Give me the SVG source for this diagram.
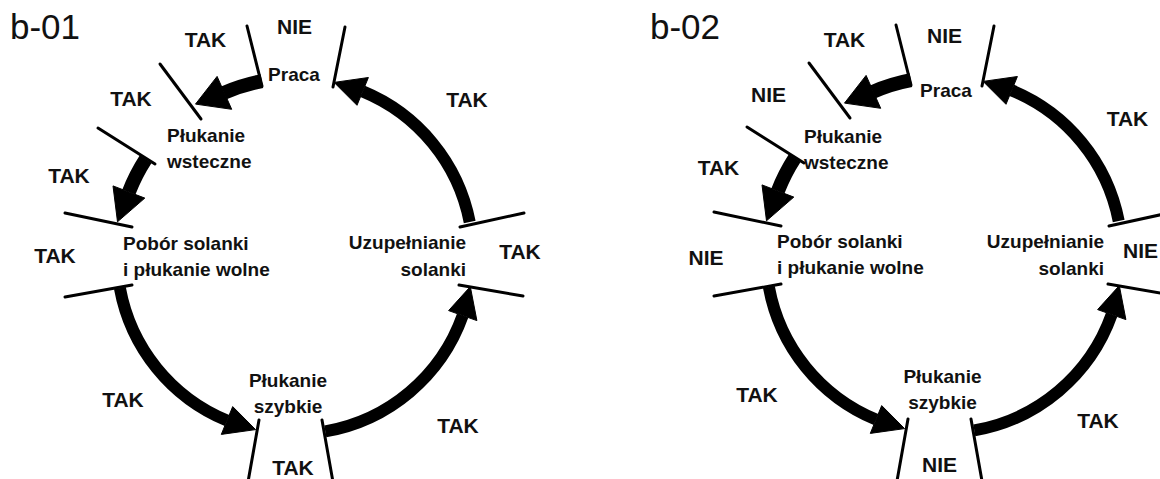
<svg xmlns="http://www.w3.org/2000/svg" width="1160" height="479" viewBox="0 0 1160 479">
<style>
text{font-family:"Liberation Sans",Arial,sans-serif;fill:#111}
.title{font-size:35px;font-weight:normal}
.lbl{font-size:19px;font-weight:bold}
.yn{font-size:21px;font-weight:bold;text-anchor:middle}
.mid{text-anchor:middle}
.end{text-anchor:end}
.bar{stroke:#000;stroke-width:3;fill:none;stroke-linecap:round}
.shaft{stroke:#000;stroke-width:12;fill:none}
.thick{stroke-width:14}
.head{fill:#000;stroke:#000;stroke-width:1;stroke-linejoin:round}
</style>
<defs>
<g id="cycle">
<line class="bar" x1="247" y1="26" x2="262" y2="86"/>
<line class="bar" x1="345" y1="27" x2="333" y2="87"/>
<line class="bar" x1="160" y1="64" x2="201" y2="119"/>
<line class="bar" x1="98" y1="128" x2="155" y2="164"/>
<line class="bar" x1="65" y1="213" x2="132" y2="227"/>
<line class="bar" x1="65" y1="297" x2="132" y2="285"/>
<line class="bar" x1="259" y1="420" x2="248" y2="482"/>
<line class="bar" x1="322" y1="420" x2="333" y2="482"/>
<line class="bar" x1="459" y1="285" x2="523" y2="296"/>
<line class="bar" x1="460" y1="227" x2="524" y2="213"/>
<path class="shaft" d="M119.9,288.1 A178,178 0 0 0 227.0,420.5"/>
<polygon class="head" points="255.6,429.6 221.3,434.4 232.7,406.6"/>
<path class="shaft" d="M325.3,431.4 A178,178 0 0 0 462.7,315.6"/>
<polygon class="head" points="470.3,286.6 476.9,320.6 448.6,310.6"/>
<path class="shaft" d="M469.7,222.0 A178,178 0 0 0 362.7,91.4"/>
<polygon class="head" points="334.1,82.4 368.4,77.5 357.0,105.3"/>
<path class="shaft thick" d="M261.9,81.1 A178,178 0 0 0 223.9,92.8"/>
<polygon class="head" points="195.5,104.1 217.1,76.4 231.7,109.3"/>
<path class="shaft thick" d="M145.7,159.1 A178,178 0 0 0 128.9,192.0"/>
<polygon class="head" points="117.5,221.8 113.0,185.9 144.8,198.1"/>
</g>
</defs>

<!-- Diagram b-01 -->
<text class="title" x="10" y="39">b-01</text>
<g id="b01-praca"><text class="lbl mid" x="294" y="81">Praca</text></g>
<g id="b01-plukanie-wsteczne"><text class="lbl" x="167" y="142">Płukanie</text><text class="lbl" x="167" y="168">wsteczne</text></g>
<g id="b01-pobor"><text class="lbl" x="123" y="250">Pobór solanki</text><text class="lbl" x="123" y="276">i płukanie wolne</text></g>
<g id="b01-uzupelnianie"><text class="lbl end" x="466" y="249">Uzupełnianie</text><text class="lbl end" x="466" y="276">solanki</text></g>
<g id="b01-plukanie-szybkie"><text class="lbl mid" x="288" y="387">Płukanie</text><text class="lbl mid" x="288" y="413">szybkie</text></g>
<g id="b01-connectors">
<use href="#cycle"/>
<g id="b01-connector-labels">
<text class="yn" x="205.5" y="47">TAK</text>
<text class="yn" x="294.5" y="34">NIE</text>
<text class="yn" x="131" y="106">TAK</text>
<text class="yn" x="69" y="183">TAK</text>
<text class="yn" x="55" y="263">TAK</text>
<text class="yn" x="123" y="407">TAK</text>
<text class="yn" x="293" y="475">TAK</text>
<text class="yn" x="458" y="433">TAK</text>
<text class="yn" x="520" y="259">TAK</text>
<text class="yn" x="467" y="107">TAK</text>
</g>
</g>

<!-- Diagram b-02 -->
<text class="title" x="650" y="39">b-02</text>
<g id="b02-praca"><text class="lbl mid" x="946" y="97">Praca</text></g>
<g id="b02-plukanie-wsteczne"><text class="lbl" x="804" y="143">Płukanie</text><text class="lbl" x="804" y="169">wsteczne</text></g>
<g id="b02-pobor"><text class="lbl" x="777" y="248">Pobór solanki</text><text class="lbl" x="777" y="274">i płukanie wolne</text></g>
<g id="b02-uzupelnianie"><text class="lbl end" x="1104" y="248">Uzupełnianie</text><text class="lbl end" x="1104" y="275">solanki</text></g>
<g id="b02-plukanie-szybkie"><text class="lbl mid" x="942.5" y="383">Płukanie</text><text class="lbl mid" x="942.5" y="409">szybkie</text></g>
<g id="b02-connectors">
<use href="#cycle" transform="translate(649,-1)"/>
<g id="b02-connector-labels">
<text class="yn" x="844.5" y="47">TAK</text>
<text class="yn" x="944.5" y="43">NIE</text>
<text class="yn" x="768.5" y="102">NIE</text>
<text class="yn" x="718.5" y="175">TAK</text>
<text class="yn" x="706" y="265">NIE</text>
<text class="yn" x="757" y="402">TAK</text>
<text class="yn" x="939.5" y="472">NIE</text>
<text class="yn" x="1098" y="428">TAK</text>
<text class="yn" x="1127.5" y="126">TAK</text>
<text class="yn end" x="1158" y="258" style="text-anchor:end">NIE</text>
</g>
</g>
</svg>
